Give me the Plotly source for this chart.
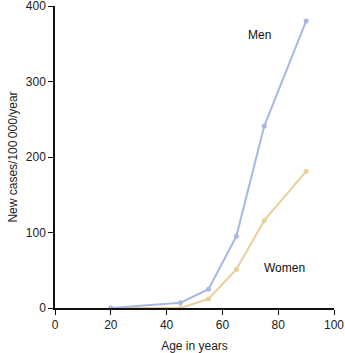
import plotly.graph_objects as go

ages = [20, 45, 55, 65, 75, 90]
men = [0, 7, 25, 95, 241, 380]
women = [0, 0, 12, 51, 116, 181]
x_ticks = [0, 20, 40, 60, 80, 100]
y_ticks = [0, 100, 200, 300, 400]

men_color = "#a9b8e1"
women_color = "#e9d09b"
font = "Liberation Sans, Arial, sans-serif"

fig = go.Figure()
fig.add_trace(go.Scatter(x=ages, y=women, mode="lines+markers",
                         line=dict(color=women_color, width=2),
                         marker=dict(color=women_color, size=5),
                         cliponaxis=False, showlegend=False))
fig.add_trace(go.Scatter(x=ages, y=men, mode="lines+markers",
                         line=dict(color=men_color, width=2),
                         marker=dict(color=men_color, size=5),
                         cliponaxis=False, showlegend=False))

fig.add_annotation(x=73.4, y=361, text="Men", showarrow=False,
                   font=dict(family=font, size=12, color="#111"))
fig.add_annotation(x=82.4, y=53, text="Women", showarrow=False,
                   font=dict(family=font, size=12, color="#111"))

fig.update_layout(
    width=345, height=353,
    margin=dict(l=55, r=11, t=6, b=45, autoexpand=False),
    paper_bgcolor="white", plot_bgcolor="white",
    font=dict(family=font, size=12, color="#222"),
)
fig.update_xaxes(range=[0, 100], tickvals=x_ticks, showgrid=False, zeroline=False,
                 showline=True, linecolor="#111", linewidth=1.5,
                 ticks="outside", ticklen=5, tickcolor="#111", automargin=False,
                 ticklabeloverflow="allow",
                 title=dict(text="Age in years", standoff=10,
                            font=dict(family=font, size=12, color="#222")))
fig.update_yaxes(range=[0, 400.01], tickvals=y_ticks, showgrid=False, zeroline=False,
                 showline=True, linecolor="#111", linewidth=1.5,
                 ticks="outside", ticklen=5, tickcolor="#111", automargin=False,
                 ticklabeloverflow="allow",
                 title=dict(text="New cases/100\u2009000/year", standoff=6,
                            font=dict(family=font, size=12, color="#222")))

fig.write_html("out.html")
